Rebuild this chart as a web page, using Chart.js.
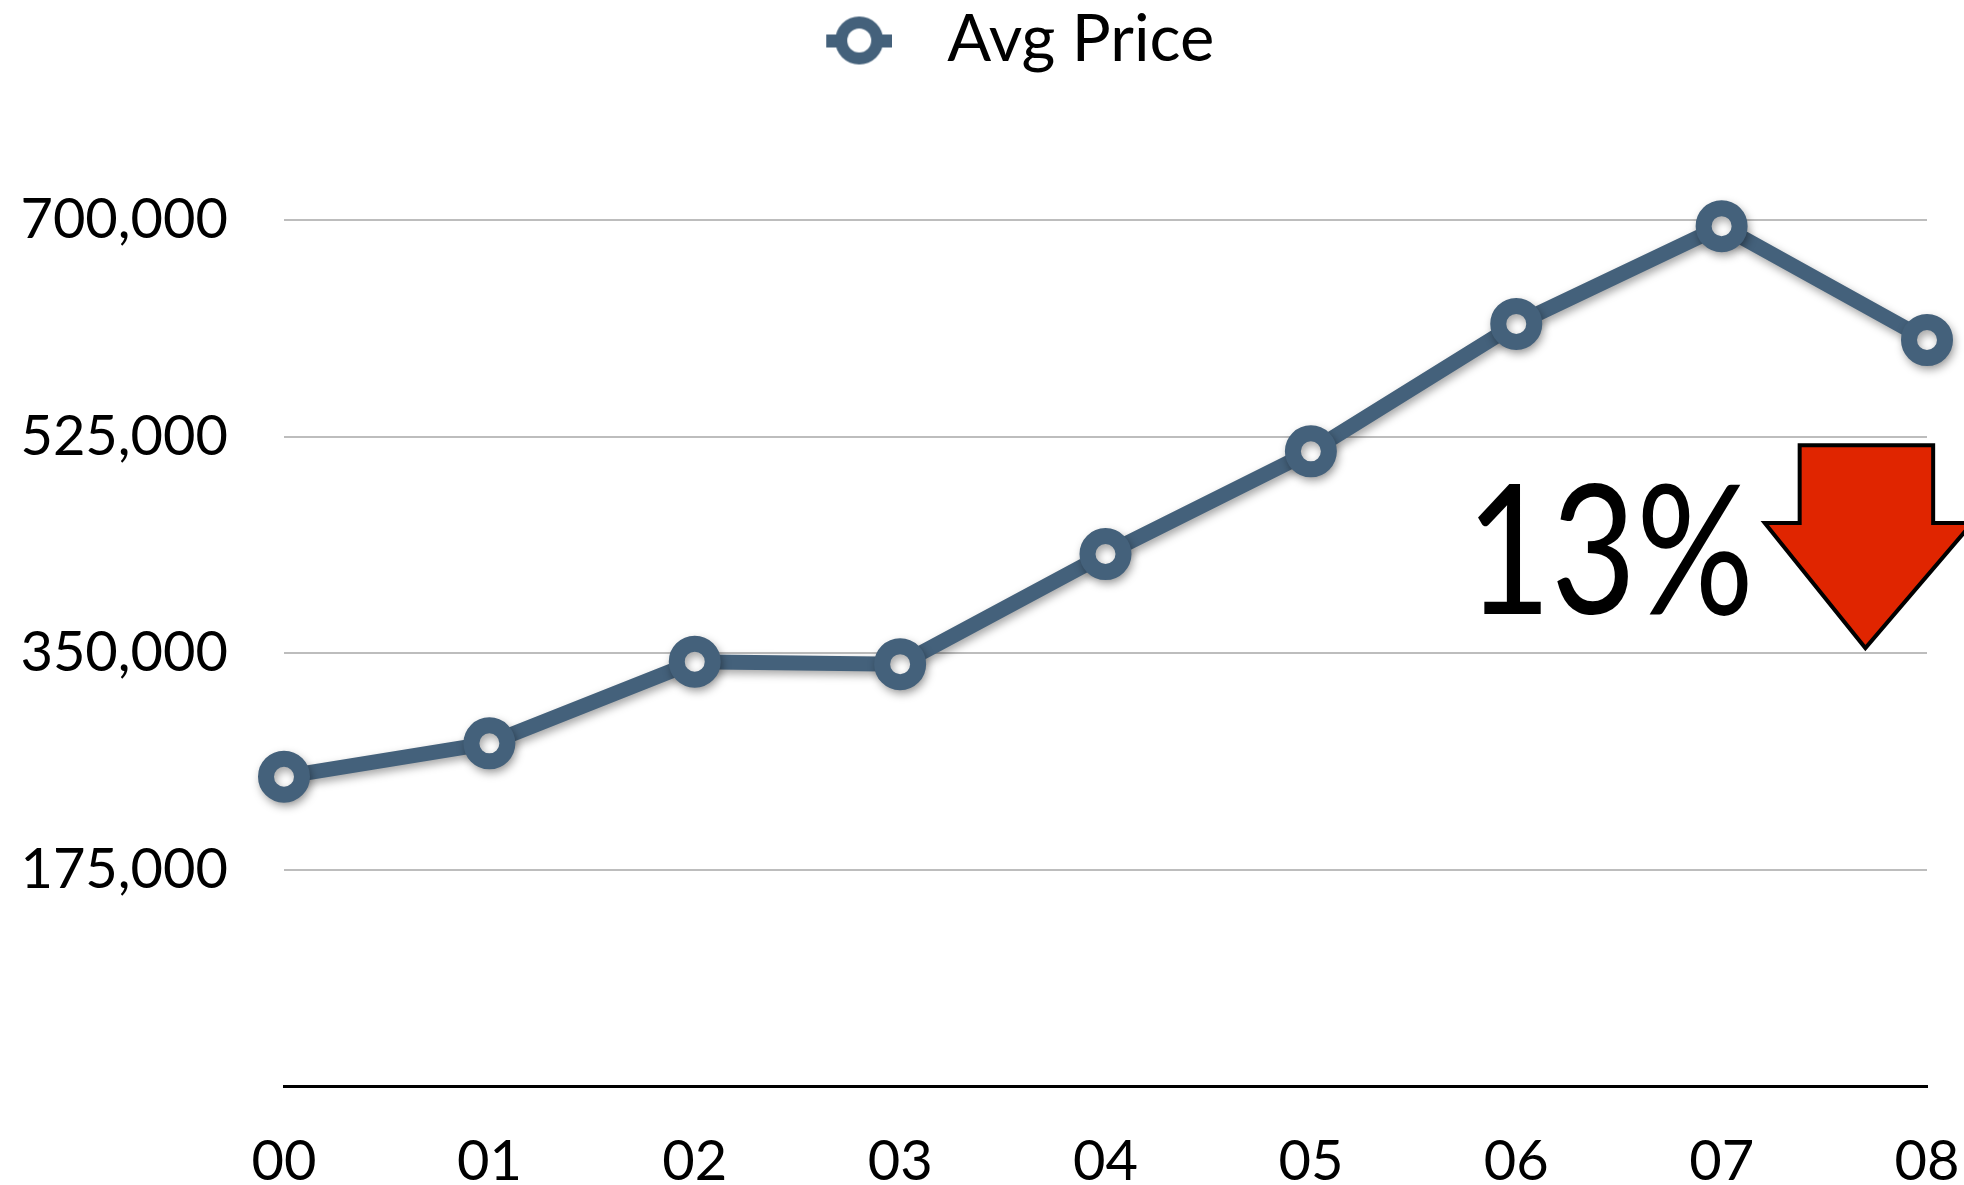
<!DOCTYPE html>
<html>
<head>
<meta charset="utf-8">
<script src="https://cdn.jsdelivr.net/npm/chart.js@4"></script>
<style>
  html, body { margin: 0; padding: 0; background: #fff; }
  #wrap { width: 1964px; height: 1185px; position: relative; }
</style>
</head>
<body>
<div id="wrap"><canvas id="chart"></canvas></div>
<script>
// data
var years = ["00", "01", "02", "03", "04", "05", "06", "07", "08"];
var avgPrice = [250000, 277000, 343000, 341000, 430000, 513000, 616000, 695000, 603000];
var yTicks = [0, 175000, 350000, 525000, 700000];
var dropLabel = "13%";

var LINE = "#44617b";
var FONT = "Lato, 'Gill Sans', 'DejaVu Sans', sans-serif";

// legend icon: ring with stubs, drawn right of the image centre
function makeIcon() {
	var c = document.createElement("canvas");
	c.width = 120; c.height = 50;
	var g = c.getContext("2d");
	var cx = 87;
	g.fillStyle = LINE;
	g.fillRect(cx - 33, 19, 66, 13);
	g.beginPath();
	g.arc(cx, 25, 24, 0, Math.PI * 2);
	g.fill();
	g.fillStyle = "#fff";
	g.beginPath();
	g.arc(cx, 25, 12, 0, Math.PI * 2);
	g.fill();
	return c;
}

// soft shadow under the line and points
var shadowPlugin = {
	id: "lineShadow",
	beforeDatasetsDraw: function( chart ) {
		var ctx = chart.ctx;
		ctx.save();
		ctx.shadowColor = "rgba(0,0,0,0.35)";
		ctx.shadowBlur = 8;
		ctx.shadowOffsetX = 2;
		ctx.shadowOffsetY = 4;
	},
	afterDatasetsDraw: function( chart ) {
		chart.ctx.restore();
	}
};

// "13%" and the red down arrow, placed through the scales
var dropPlugin = {
	id: "drop",
	afterDraw: function( chart ) {
		var ctx = chart.ctx;
		var xs = chart.scales.x, ys = chart.scales.y;
		var px = function( v ) { return xs.getPixelForDecimal(v / 8); };
		ctx.save();
		// text
		ctx.font = "180px " + FONT;
		ctx.fillStyle = "#000";
		ctx.textBaseline = "alphabetic";
		ctx.textAlign = "left";
		var tx = px(5.755);
		var ty = ys.getPixelForValue(381500);
		var w = ctx.measureText(dropLabel).width;
		ctx.translate(tx, ty);
		ctx.scale(288 / w, 1);
		ctx.fillText(dropLabel, 0, 0);
		ctx.restore();

		// arrow
		var sl = px(7.38), sr = px(8.03), hl = px(7.21), hr = px(8.22), tipX = px(7.70);
		var top = ys.getPixelForValue(518000), neck = ys.getPixelForValue(455000), tip = ys.getPixelForValue(354000);
		ctx.save();
		ctx.beginPath();
		ctx.moveTo(sl, top);
		ctx.lineTo(sr, top);
		ctx.lineTo(sr, neck);
		ctx.lineTo(hr, neck);
		ctx.lineTo(tipX, tip);
		ctx.lineTo(hl, neck);
		ctx.lineTo(sl, neck);
		ctx.closePath();
		ctx.fillStyle = "#e02500";
		ctx.fill();
		ctx.lineWidth = 4;
		ctx.lineJoin = "miter";
		ctx.strokeStyle = "#000";
		ctx.stroke();
		ctx.restore();
	}
};

// fix the legend height so the plot starts where the picture does
var legendFit = {
	id: "legendFit",
	beforeInit: function( chart ) {
		var fit = chart.legend.fit;
		chart.legend.fit = function() {
			fit.bind(chart.legend)();
			this.height = 220;
		};
	}
};

var chart = new Chart(document.getElementById("chart"), {
	type: "line",
	data: {
		labels: years,
		datasets: [{
			label: "Avg Price",
			data: avgPrice,
			borderColor: LINE,
			borderWidth: 15,
			backgroundColor: "#fff",
			pointBackgroundColor: "#fff",
			pointBorderColor: LINE,
			pointBorderWidth: 16,
			pointRadius: 18,
			pointHoverRadius: 18,
			tension: 0,
			clip: false
		}]
	},
	plugins: [shadowPlugin, legendFit, dropPlugin],
	options: {
		responsive: true,
		maintainAspectRatio: false,
		animation: false,
		devicePixelRatio: 1,
		layout: { padding: 0 },
		plugins: {
			tooltip: { enabled: false },
			legend: {
				display: true,
				position: "top",
				labels: {
					usePointStyle: true,
					pointStyle: makeIcon(),
					pointStyleWidth: 165,
					color: "#000",
					font: { family: FONT, size: 65 },
					padding: 8
				}
			}
		},
		scales: {
			x: {
				offset: false,
				grid: { display: false, drawTicks: false },
				border: { display: true, color: "#000", width: 3 },
				ticks: {
					color: "#000",
					font: { family: FONT, size: 56 },
					padding: 42,
					maxRotation: 0,
					autoSkip: false
				},
				afterFit: function( scale ) {
					scale.height = 99;
					scale.paddingRight = 37; // tick padding would otherwise widen the right margin
				}
			},
			y: {
				min: 0,
				max: 700000,
				afterBuildTicks: function( scale ) {
					scale.ticks = yTicks.map(function( v ) { return { value: v }; });
				},
				grid: {
					color: function( ctx ) { return ctx.tick.value === 0 ? "rgba(0,0,0,0)" : "#bdbdbd"; },
					lineWidth: 2,
					drawTicks: false
				},
				border: { display: false },
				ticks: {
					color: "#000",
					font: { family: FONT, size: 56 },
					padding: 56,
					callback: function( v ) { return v === 0 ? "" : v.toLocaleString("en-US"); }
				},
				afterFit: function( scale ) { scale.width = 284; }
			}
		}
	}
});
</script>
</body>
</html>
